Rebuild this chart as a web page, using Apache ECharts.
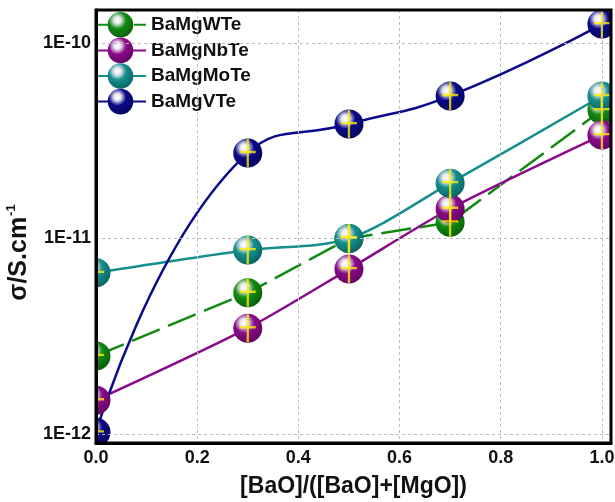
<!DOCTYPE html>
<html>
<head>
<meta charset="utf-8">
<script src="https://cdn.jsdelivr.net/npm/echarts@6/dist/echarts.min.js"></script>
<style>
  html, body { margin: 0; padding: 0; background: #fff; }
  #chart { width: 615px; height: 502px; }
</style>
</head>
<body>
<div id="chart"></div>
<script>
// x: [BaO]/([BaO]+[MgO])
var xValues = [0.0, 0.3, 0.5, 0.7, 1.0];
// conductivity, S/cm
var wTe  = [2.51e-12, 5.28e-12, 1.00e-11, 1.21e-11, 4.54e-11];
var nbTe = [1.49e-12, 3.48e-12, 6.98e-12, 1.42e-11, 3.38e-11];
var moTe = [6.68e-12, 8.73e-12, 1.00e-11, 1.92e-11, 5.36e-11];
var vTe  = [1.02e-12, 2.74e-11, 3.85e-11, 5.36e-11, 1.25e-10];
var seriesNames = ['BaMgWTe', 'BaMgNbTe', 'BaMgMoTe', 'BaMgVTe'];
var xTicks = [0, 0.2, 0.4, 0.6, 0.8, 1.0];

var chart = echarts.init(document.getElementById('chart'));

var font = 'Liberation Sans, Arial';

// shiny ball marker
function ball(base, dark) {
    return {
        type: 'radial', x: 0.38, y: 0.32, r: 0.75,
        colorStops: [
            { offset: 0, color: '#ffffff' },
            { offset: 0.18, color: '#e8e8f0' },
            { offset: 0.45, color: base },
            { offset: 1, color: dark }
        ]
    };
}

function pairs(ys) {
    return xValues.map(function (x, i) { return [x, ys[i]]; });
}

function lineSeries(name, ys, color, dark, smooth, dashed) {
    return {
        name: name,
        type: 'line',
        data: pairs(ys),
        smooth: smooth,
        symbol: 'circle',
        symbolSize: 29,
        clip: true,
        lineStyle: { color: color, width: 2.5, type: dashed ? [30, 9] : 'solid' },
        itemStyle: { color: ball(color, dark) },
        emphasis: { disabled: true }
    };
}

// yellow error bars drawn over the balls
var errBar = 'path://M9,0 L11,0 L11,26 L9,26 Z M3,11 L17,11 L17,13.2 L3,13.2 Z';
var allPoints = [].concat(pairs(wTe), pairs(nbTe), pairs(moTe), pairs(vTe));

// plot box, used to hide the parts of the balls that stick out of it
var box = { left: 96, top: 10, right: 611, bottom: 443 };

var option = {
    animation: false,
    grid: {
        left: box.left, top: box.top, right: 615 - box.right, bottom: 502 - box.bottom,
        outerBoundsMode: 'none'
    },
    graphic: [
        { type: 'rect', z: 10, silent: true, shape: { x: 0, y: 0, width: box.left - 1, height: 502 }, style: { fill: '#fff' } },
        { type: 'rect', z: 10, silent: true, shape: { x: box.right + 1, y: 0, width: 10, height: 502 }, style: { fill: '#fff' } },
        { type: 'rect', z: 10, silent: true, shape: { x: 0, y: 0, width: 615, height: box.top - 1 }, style: { fill: '#fff' } },
        { type: 'rect', z: 10, silent: true, shape: { x: 0, y: box.bottom + 1, width: 615, height: 60 }, style: { fill: '#fff' } },
        { type: 'rect', z: 30, silent: true,
          shape: { x: box.left, y: box.top, width: box.right - box.left, height: box.bottom - box.top },
          style: { fill: null, stroke: '#000', lineWidth: 3 } }
    ],
    legend: {
        data: seriesNames,
        orient: 'vertical',
        left: 94, top: 12, padding: 0,
        itemWidth: 51, itemHeight: 32, itemGap: 0,
        textStyle: { fontFamily: font, fontWeight: 'bold', fontSize: 19, color: '#111' }
    },
    xAxis: {
        type: 'value',
        min: 0, max: 1.018, interval: 0.2,
        z: 20,
        name: '[BaO]/([BaO]+[MgO])',
        nameLocation: 'middle', nameGap: 32,
        nameTextStyle: { fontFamily: font, fontWeight: 'bold', fontSize: 23, color: '#111' },
        axisLine: { lineStyle: { color: '#000', width: 3 } },
        axisTick: { show: false },
        axisLabel: {
            margin: 6, showMaxLabel: false,
            fontFamily: font, fontWeight: 'bold', fontSize: 18, color: '#111',
            formatter: function (v) {
                return xTicks.some(function (t) { return Math.abs(t - v) < 1e-6; }) ? v.toFixed(1) : '';
            }
        },
        splitLine: { show: true, lineStyle: { color: '#bbb', type: [3, 3], width: 1 } }
    },
    yAxis: {
        type: 'log',
        min: 9.0e-13, max: 1.475e-10,
        z: 20,
        name: '{a|\u03c3/S.cm}{b|-1}',
        nameLocation: 'middle', nameGap: 46, nameRotate: 90,
        nameTextStyle: {
            padding: [0, 52, 0, 0],
            rich: {
                a: { fontFamily: font, fontWeight: 'bold', fontSize: 25, color: '#111' },
                b: { fontFamily: font, fontWeight: 'bold', fontSize: 13, color: '#111', padding: [0, 0, 16, 1] }
            }
        },
        axisLine: { show: true, lineStyle: { color: '#000', width: 3 } },
        axisTick: { show: false },
        axisLabel: {
            margin: 5, showMinLabel: false, showMaxLabel: false,
            fontFamily: font, fontWeight: 'bold', fontSize: 18, color: '#111',
            formatter: function (v) {
                var e = Math.log10(v);
                return Math.abs(e - Math.round(e)) < 1e-6 ? '1E' + Math.round(e) : '';
            }
        },
        splitLine: { show: true, lineStyle: { color: '#bbb', type: [3, 3], width: 1 } }
    },
    series: [
        lineSeries('BaMgWTe', wTe, '#128a12', '#0a5a0a', false, true),
        lineSeries('BaMgNbTe', nbTe, '#8a0a8a', '#5c065c', 0.25, false),
        lineSeries('BaMgMoTe', moTe, '#168e8e', '#0a5e5e', 0.3, false),
        lineSeries('BaMgVTe', vTe, '#0a0a8a', '#05055a', 0.5, false),
        {
            name: 'err',
            type: 'scatter',
            data: allPoints,
            symbol: errBar,
            symbolSize: [16, 28],
            symbolKeepAspect: false,
            itemStyle: { color: '#ffee00' },
            z: 5,
            silent: true
        }
    ]
};

chart.setOption(option);
</script>
</body>
</html>
